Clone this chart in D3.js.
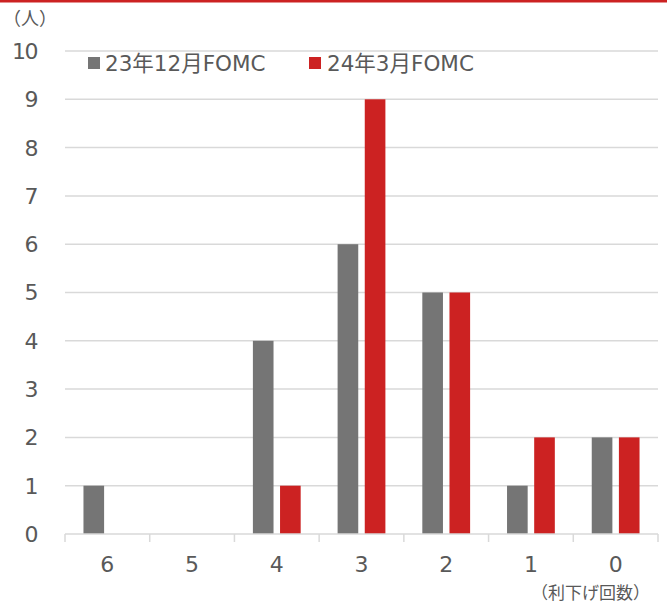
<!DOCTYPE html>
<html><head><meta charset="utf-8">
<script src="https://cdn.jsdelivr.net/npm/d3@7"></script>
<style>body{margin:0;background:#fff}svg{display:block}text{font-family:"DejaVu Sans","Noto Sans CJK JP",sans-serif;fill:#595959}</style>
</head><body>
<script>
const categories = ["6","5","4","3","2","1","0"];
const seriesNames = ["23年12月FOMC","24年3月FOMC"];
const dec2023 = [1,0,4,6,5,1,2];
const mar2024 = [0,0,1,9,5,2,2];
const yTicks = [0,1,2,3,4,5,6,7,8,9,10];
const colors = ["#757575","#cc2222"];

const W=667,H=603;
const svg=d3.select("body").append("svg").attr("width",W).attr("height",H);
svg.append("rect").attr("x",0).attr("y",0).attr("width",W).attr("height",2.5).attr("fill","#cc2222");

const x=d3.scaleBand().domain(categories).range([65,658]);
const xi=d3.scaleBand().domain([0,1]).range([0,x.bandwidth()]).paddingInner(0.24).paddingOuter(0.68);
const y=d3.scaleLinear().domain([0,10]).range([534,51]);

svg.append("g").selectAll("line").data(yTicks.slice(1)).join("line")
 .attr("x1",65).attr("x2",658).attr("y1",d=>y(d)).attr("y2",d=>y(d))
 .attr("stroke","#d9d9d9").attr("stroke-width",1.5);

svg.append("g").selectAll("text").data(yTicks).join("text")
 .attr("x",37).attr("y",d=>y(d)).attr("dy","0.36em").attr("text-anchor","end")
 .attr("font-size",22).attr("letter-spacing",-1.5).text(d=>d);

const series=[dec2023,mar2024];
series.forEach((s,si)=>{
  svg.append("g").selectAll("rect").data(categories.map((c,i)=>({c,v:s[i]})).filter(d=>d.v>0)).join("rect")
   .attr("x",d=>x(d.c)+xi(si)).attr("width",xi.bandwidth())
   .attr("y",d=>y(d.v)).attr("height",d=>y(0)-y(d.v)).attr("fill",colors[si]);
});

const xa=svg.append("g");
xa.append("line").attr("x1",65).attr("x2",658).attr("y1",534).attr("y2",534).attr("stroke","#d9d9d9").attr("stroke-width",1.5);
const bounds=categories.map(c=>x(c)).concat([x.range()[1]]);
xa.selectAll("line.t").data(bounds).join("line").attr("class","t")
 .attr("x1",d=>d).attr("x2",d=>d).attr("y1",534).attr("y2",542).attr("stroke","#d9d9d9").attr("stroke-width",1.5);
xa.selectAll("text").data(categories).join("text")
 .attr("x",d=>x(d)+x.bandwidth()/2).attr("y",564).attr("dy","0.36em").attr("text-anchor","middle")
 .attr("font-size",22).text(d=>d);

svg.append("text").attr("x",30).attr("y",19).attr("dy","0.36em").attr("text-anchor","middle").attr("font-size",18).text("（人）");
svg.append("text").attr("x",650).attr("y",593).attr("dy","0.36em").attr("text-anchor","end").attr("font-size",17).text("（利下げ回数）");

const lg=[{x:88,tx:105},{x:309,tx:327}];
seriesNames.forEach((n,i)=>{
  svg.append("rect").attr("x",lg[i].x).attr("y",57).attr("width",12).attr("height",12).attr("fill",colors[i]);
  svg.append("text").attr("x",lg[i].tx).attr("y",63).attr("dy","0.36em").attr("font-size",21.5).text(n);
});
</script>
</body></html>
